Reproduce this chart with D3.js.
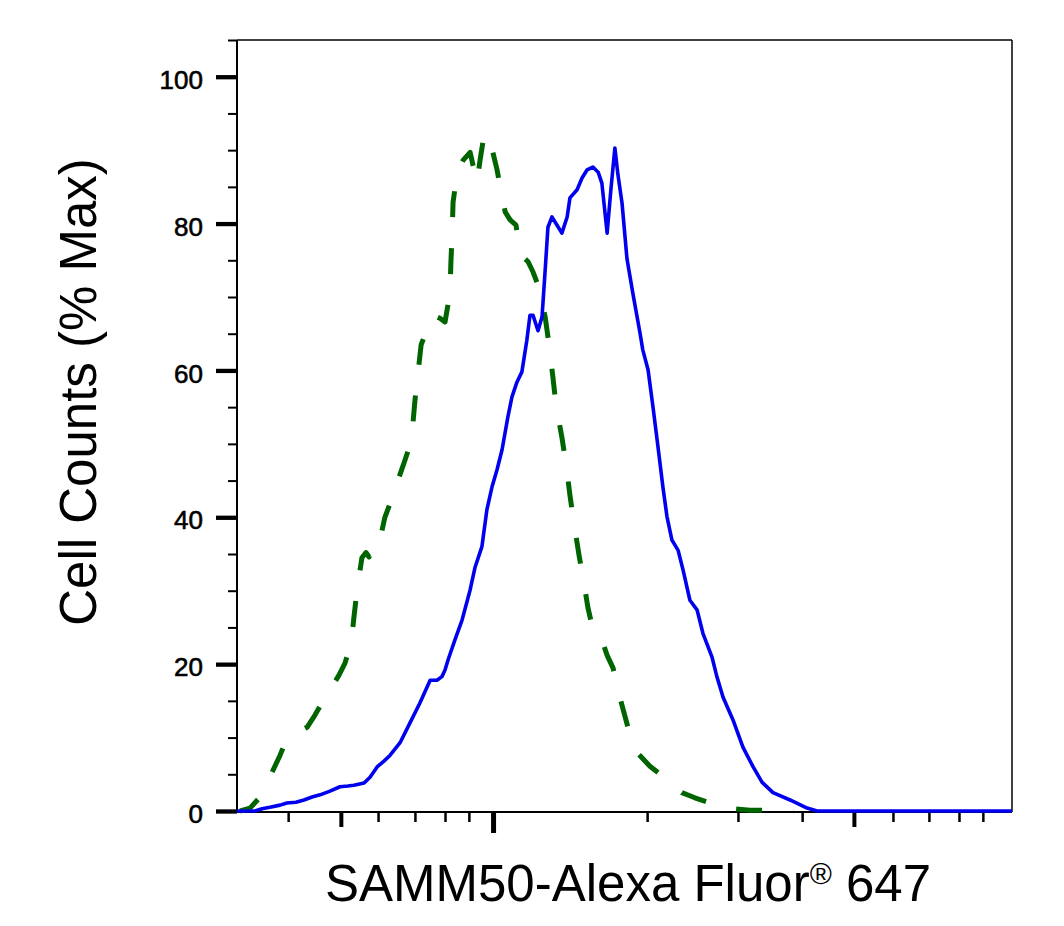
<!DOCTYPE html>
<html>
<head>
<meta charset="utf-8">
<script src="https://cdn.jsdelivr.net/npm/d3@7"></script>
<style>
  html, body { margin: 0; padding: 0; background: #ffffff; }
  svg { display: block; }
  text { font-family: "Liberation Sans", Arial, Helvetica, sans-serif; fill: #000; }
</style>
</head>
<body>
<svg id="chart" width="1064" height="926"></svg>
<script>
// ---- Data (x in display channel units 0..250, y in % of max) ----
const blueX = [0,5.8,8.1,10.6,13.9,16.1,19.0,21.6,24.2,26.8,30.0,33.2,35.8,37.7,41.0,42.9,45.2,47.4,49.4,52.6,55.8,59.0,62.3,64.5,66.1,67.1,68.1,70.3,72.6,75.2,76.8,79.0,80.6,82.3,83.9,85.5,87.4,88.7,90.3,91.9,93.5,94.5,95.5,97.1,98.4,99.4,100.3,101.6,103.2,104.8,106.5,107.4,109.7,111.3,112.9,114.8,116.5,117.7,119.4,120.6,121.9,122.9,124.2,125.8,127.7,130.0,130.9,132.6,134.2,135.8,137.4,138.7,140.3,142.3,143.9,146.1,148.4,150.3,153.2,154.8,156.8,160.0,163.2,166.5,169.4,172.9,178.4,183.9,187.1,200,225,250];
const blueY = [0,0,0.3,0.5,0.8,1.1,1.2,1.5,1.9,2.2,2.7,3.3,3.4,3.5,3.8,4.6,6.0,6.8,7.6,9.3,12.0,14.7,17.8,17.8,18.3,19.2,20.6,23.3,26.0,30.1,33.2,36.0,41.0,44.2,46.5,49.2,53.7,56.4,58.4,59.8,64.1,67.5,67.5,65.4,67.3,73.6,79.5,80.9,79.8,78.7,80.9,83.5,84.6,86.2,87.3,87.7,87.0,85.5,78.7,84.6,90.3,86.6,82.8,75.2,70.5,65.1,62.8,60.1,55.0,49.6,44.1,40.1,36.9,35.5,32.8,28.7,27.4,24.2,21.0,18.3,15.5,12.4,8.7,6.0,3.9,2.5,1.5,0.4,0,0,0,0];

const greenX = [1.0,4.2,6.8,9.4,12.0,13.9,15.5,17.7,20.3,22.6,25.2,27.4,30.0,32.9,34.8,36.1,37.1,37.7,38.7,40.3,41.6,42.6,43.5,45.5,47.7,49.4,51.0,54.2,55.8,56.5,57.4,58.4,59.4,60.6,62.3,63.2,65.5,67.1,68.7,69.0,69.4,69.7,71.0,72.9,75.2,76.1,77.4,78.4,79.4,81.0,82.6,83.9,84.8,86.5,88.1,90.0,91.3,92.6,93.9,95.5,97.1,99.4,100.6,101.9,102.9,104.8,106.1,107.4,108.7,110.3,111.9,113.2,114.5,116.5,117.7,119.4,121.3,123.5,126.1,127.7,129.4,133.2,137.1,140.3,143.5,147.7,152.6,156.5,160.6,165.5,171.3,175.2,179.4];
const greenY = [0,0.4,1.6,3.5,5.9,7.6,9.3,10.3,10.9,11.4,13.1,14.7,16.5,18.5,20.1,21.9,23.9,26.3,30.0,34.5,35.2,34.6,35.5,35.7,40.0,41.9,43.9,47.8,49.8,51.5,55.9,59.7,63.5,64.8,66.2,67.5,67.1,66.6,70.5,74.7,78.7,82.9,86.9,88.6,89.7,88.0,85.6,88.6,91.3,92.3,89.6,87.3,85.2,81.6,80.5,79.8,76.2,75.3,74.8,73.4,71.6,67.3,63.7,59.1,55.3,50.9,47.4,43.0,39.2,34.9,31.1,27.7,25.3,24.0,23.3,21.2,19.5,15.5,11.4,8.9,7.8,6.1,4.8,3.5,2.5,1.8,1.1,0.7,0.3,0.1,0.1,0,0];

// Axis ticks
const yMajorTicks = [0, 20, 40, 60, 80, 100];
const yMinorTicks = [5,10,15,25,30,35,45,50,55,65,70,75,85,90,95,105];
const xMajorTicks = [82.6];
const xMediumTicks = [33.5, 199.0];
const xMinorTicks = [16.5, 45.5, 57.4, 67.1, 74.8, 132.3, 161.6, 182.3, 211.6, 223.2, 232.9, 240.6];

const xTitle = "SAMM50-Alexa Fluor";
const yTitle = "Cell Counts (% Max)";

// ---- Layout ----
const svg = d3.select("#chart");
const L = 237, R = 1012, T = 40, B = 811;

const x = d3.scaleLinear().domain([0, 250]).range([L, R]);
const y = d3.scaleLinear().domain([0, 105]).range([B, T]);

// Frame (top and right)
svg.append("line").attr("x1", L).attr("x2", R).attr("y1", T).attr("y2", T)
  .attr("stroke", "#000").attr("stroke-width", 1.5);
svg.append("line").attr("x1", R).attr("x2", R).attr("y1", T).attr("y2", B + 1)
  .attr("stroke", "#000").attr("stroke-width", 1.5);

// Y axis
function styleAxis(g, w) {
  g.select(".domain").remove();
  g.selectAll(".tick line").attr("stroke", "#000").attr("stroke-width", w);
}
const gyMinor = svg.append("g").attr("transform", `translate(${L},0)`)
  .call(d3.axisLeft(y).tickValues(yMinorTicks).tickSize(9).tickFormat(""));
styleAxis(gyMinor, 2);
const gyMajor = svg.append("g").attr("transform", `translate(${L},0)`)
  .call(d3.axisLeft(y).tickValues(yMajorTicks).tickSize(21).tickPadding(13).tickFormat(d3.format("d")));
styleAxis(gyMajor, 4.3);
gyMajor.selectAll(".tick text")
  .attr("font-size", "26px")
  .attr("font-family", "'Liberation Sans', Arial, Helvetica, sans-serif")
  .attr("dy", "0.45em")
  .attr("fill", "#000")
  .attr("stroke", "#000")
  .attr("stroke-width", 0.6);

svg.append("line").attr("x1", L).attr("x2", L).attr("y1", T).attr("y2", B + 1)
  .attr("stroke", "#000").attr("stroke-width", 2);

// X axis
const gxMinor = svg.append("g").attr("transform", `translate(0,${B + 1})`)
  .call(d3.axisBottom(x).tickValues(xMinorTicks).tickSize(10).tickFormat(""));
styleAxis(gxMinor, 2.5);
const gxMed = svg.append("g").attr("transform", `translate(0,${B + 1})`)
  .call(d3.axisBottom(x).tickValues(xMediumTicks).tickSize(15).tickFormat(""));
styleAxis(gxMed, 4);
const gxMajor = svg.append("g").attr("transform", `translate(0,${B + 1})`)
  .call(d3.axisBottom(x).tickValues(xMajorTicks).tickSize(21).tickFormat(""));
styleAxis(gxMajor, 5);

svg.append("line").attr("x1", L).attr("x2", R).attr("y1", B + 1).attr("y2", B + 1)
  .attr("stroke", "#000").attr("stroke-width", 2);

// ---- Curves ----
const line = d3.line().x(d => x(d[0])).y(d => y(d[1])).curve(d3.curveLinear);

const greenData = greenX.map((v, i) => [v, greenY[i]]);
const blueData = blueX.map((v, i) => [v, blueY[i]]);

svg.append("path").datum(greenData)
  .attr("d", line)
  .attr("fill", "none")
  .attr("stroke", "#006400")
  .attr("stroke-width", 5)
  .attr("stroke-dasharray", "26,31")
  .attr("stroke-dashoffset", 4)
  .attr("stroke-linejoin", "round");

svg.append("path").datum(blueData)
  .attr("d", line)
  .attr("fill", "none")
  .attr("stroke", "#0000ee")
  .attr("stroke-width", 3.6)
  .attr("stroke-linejoin", "round");

// ---- Titles ----
const xt = svg.append("text")
  .attr("x", 628).attr("y", 901)
  .attr("text-anchor", "middle")
  .attr("font-size", "51px");
xt.append("tspan").text(xTitle);
xt.append("tspan").attr("font-size", "30px").attr("dy", -17).text("®");
xt.append("tspan").attr("dy", 17).text(" 647");

svg.append("text")
  .attr("transform", "translate(96,392) rotate(-90)")
  .attr("text-anchor", "middle")
  .attr("font-size", "51px")
  .text(yTitle);
</script>
</body>
</html>
